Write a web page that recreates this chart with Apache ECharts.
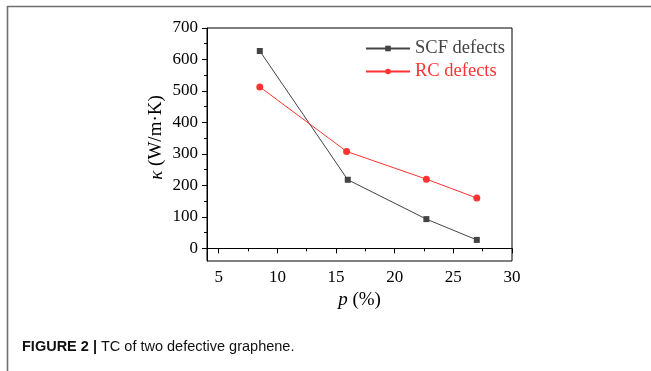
<!DOCTYPE html>
<html>
<head>
<meta charset="utf-8">
<script src="https://cdn.jsdelivr.net/npm/echarts@6/dist/echarts.min.js"></script>
<style>
  html, body { margin: 0; padding: 0; background: #fff; }
  #chart { width: 651px; height: 371px; }
</style>
</head>
<body>
<div id="chart"></div>
<script>
const defectRatio = [8.5, 16, 22.7, 27];
const scfDefects = [627, 218, 93, 27];
const rcRatio = [8.5, 15.9, 22.7, 27];
const rcDefects = [513, 308, 220, 160];

const xMajor = [5, 10, 15, 20, 25, 30];
const xMinor = [7.5, 12.5, 17.5, 22.5, 27.5];
const yMajor = [0, 100, 200, 300, 400, 500, 600, 700];
const yMinor = [50, 150, 250, 350, 450, 550, 650];

const serif = "'Liberation Serif', 'Times New Roman', serif";
const chart = echarts.init(document.getElementById("chart"));

const minorX = {
  type: "value", min: 4, max: 30, position: "bottom", offset: 0,
  axisLine: { show: false },
  axisTick: { show: true, customValues: xMinor, length: 3, lineStyle: { color: "#000" } },
  axisLabel: { show: false },
  splitLine: { show: false }
};
const minorY = {
  type: "value", min: -40, max: 700, position: "left", offset: 0,
  axisLine: { show: false },
  axisTick: { show: true, customValues: yMinor, length: 3, lineStyle: { color: "#000" } },
  axisLabel: { show: false },
  splitLine: { show: false }
};

chart.setOption({
  animation: false,
  grid: {
    left: 207, right: 139, top: 28, bottom: 110,
    show: true, borderColor: "#000", borderWidth: 1, backgroundColor: "transparent"
  },
  legend: {
    orient: "vertical",
    left: 360, top: 34,
    itemWidth: 44, itemHeight: 7, itemGap: 4,
    textStyle: { fontFamily: serif, fontSize: 18.5 },
    data: [
      { name: "SCF defects", textStyle: { color: "#444" } },
      { name: "RC defects", textStyle: { color: "#ff3333" } }
    ]
  },
  xAxis: [
    {
      type: "value", min: 4, max: 30, position: "bottom",
      axisLine: { show: true, lineStyle: { color: "#000", width: 1 } },
      axisTick: { show: true, customValues: xMajor, length: 5, lineStyle: { color: "#000" } },
      axisLabel: { customValues: xMajor, color: "#000", fontFamily: serif, fontSize: 17, margin: 8 },
      splitLine: { show: false },
      name: "{i|p} (%)",
      nameLocation: "middle", nameGap: 23,
      nameTextStyle: {
        color: "#000", fontFamily: serif, fontSize: 19,
        rich: { i: { fontStyle: "italic", fontFamily: serif, fontSize: 19, color: "#000" } }
      }
    },
    minorX
  ],
  yAxis: [
    {
      type: "value", min: -40, max: 700, position: "left",
      axisLine: { show: true, lineStyle: { color: "#000", width: 1 } },
      axisTick: { show: true, customValues: yMajor, length: 5, lineStyle: { color: "#000" } },
      axisLabel: { customValues: yMajor, color: "#000", fontFamily: serif, fontSize: 17, margin: 9 },
      splitLine: { show: false },
      name: "{i|κ} (W/m·K)",
      nameLocation: "middle", nameGap: 41,
      nameTextStyle: {
        color: "#000", fontFamily: serif, fontSize: 19, padding: [0, 0, 0, 14],
        rich: { i: { fontStyle: "italic", fontFamily: serif, fontSize: 19, color: "#000" } }
      }
    },
    minorY
  ],
  series: [
    {
      name: "SCF defects", type: "line",
      data: defectRatio.map((x, i) => [x, scfDefects[i]]),
      symbol: "rect", symbolSize: 6,
      lineStyle: { color: "#444", width: 1 },
      itemStyle: { color: "#444" }
    },
    {
      name: "RC defects", type: "line",
      data: rcRatio.map((x, i) => [x, rcDefects[i]]),
      symbol: "circle", symbolSize: 7,
      lineStyle: { color: "#ff3333", width: 1 },
      itemStyle: { color: "#ff3333" }
    }
  ],
  graphic: [
    { type: "line", shape: { x1: 7, y1: 6.5, x2: 651, y2: 6.5 }, style: { stroke: "#6f6f6f", lineWidth: 1.6 } },
    { type: "line", shape: { x1: 7.5, y1: 6, x2: 7.5, y2: 371 }, style: { stroke: "#6f6f6f", lineWidth: 1.6 } },
    {
      type: "text", left: 22, top: 339,
      style: {
        text: "{b|FIGURE 2 |} TC of two defective graphene.",
        fontFamily: "'Liberation Sans', Arial, sans-serif", fontSize: 14.5, fill: "#111",
        rich: { b: { fontWeight: "bold", fontFamily: "'Liberation Sans', Arial, sans-serif", fontSize: 14.5, fill: "#111" } }
      }
    }
  ]
});
</script>
</body>
</html>
